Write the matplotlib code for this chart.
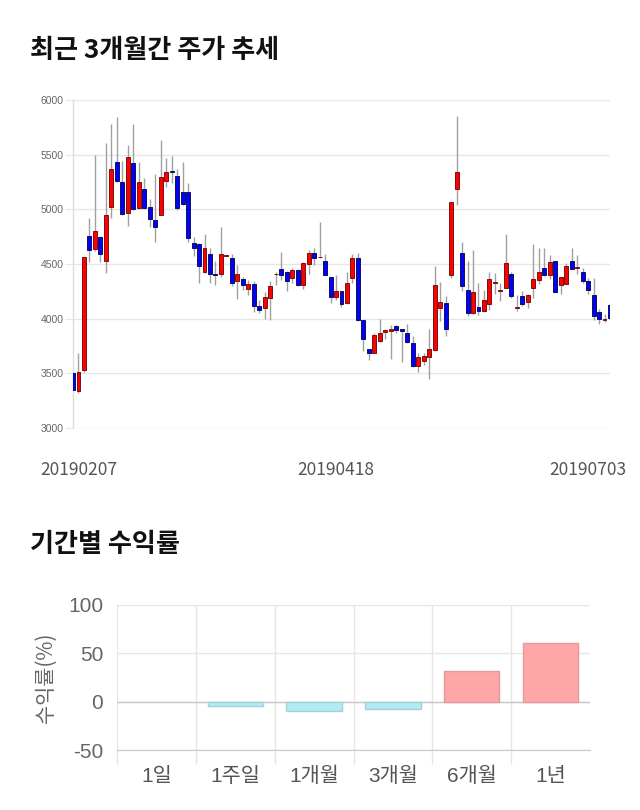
import matplotlib
matplotlib.use("Agg")
import matplotlib.pyplot as plt
from matplotlib.patches import Rectangle

plt.rcParams['font.family'] = ['Noto Sans CJK KR', 'DejaVu Sans']

# ---------------- data ----------------
opens = [3500, 3340, 3530, 4760, 4640, 4750, 4530, 5020, 5435, 5250,
         4965, 5425, 5010, 5185, 5025, 4900, 4950, 5255, 5355, 5305,
         5155, 5155, 4690, 4680, 4430, 4595, 4408, 4405, 4575, 4555,
         4340, 4360, 4270, 4320, 4120, 4095, 4185, 4405, 4455, 4425,
         4370, 4445, 4305, 4500, 4600, 4560, 4525, 4380, 4195, 4250,
         4145, 4375, 4555, 3985, 3720, 3690, 3800, 3875, 3890, 3930,
         3905, 3870, 3775, 3570, 3610, 3645, 3715, 4100, 4145, 4400,
         5190, 4605, 4265, 4055, 4105, 4070, 4135, 4325, 4255, 4285,
         4405, 4097, 4205, 4150, 4285, 4355, 4465, 4395, 4525, 4310,
         4320, 4525, 4462, 4425, 4345, 4215, 4065, 3990, 4125]
highs = [3510, 3690, 4565, 4920, 5500, 4760, 5610, 5780, 5840, 5445,
         5590, 5780, 5435, 5285, 5095, 5320, 5635, 5465, 5490, 5370,
         5435, 5240, 4750, 4690, 4775, 4645, 4530, 4835, 4580, 4590,
         4495, 4380, 4350, 4340, 4175, 4245, 4340, 4430, 4610, 4440,
         4465, 4455, 4515, 4630, 4645, 4880, 4590, 4385, 4400, 4255,
         4430, 4595, 4600, 3990, 3725, 3870, 3995, 3905, 3940, 3945,
         3910, 3950, 3840, 3685, 3690, 3905, 4480, 4335, 4205, 5070,
         5850, 4700, 4530, 4625, 4330, 4260, 4425, 4420, 4330, 4775,
         4430, 4215, 4250, 4225, 4685, 4645, 4645, 4585, 4530, 4385,
         4510, 4645, 4580, 4465, 4370, 4370, 4085, 4040, 4130]
lows = [3340, 3320, 3510, 4520, 4620, 4520, 4420, 4925, 5250, 4950,
        4845, 4990, 5000, 5005, 4840, 4700, 4950, 5200, 5240, 4990,
        5040, 4700, 4570, 4325, 4415, 4330, 4310, 4385, 4570, 4300,
        4180, 4265, 4220, 4065, 4055, 4000, 3985, 4310, 4350, 4255,
        4330, 4300, 4275, 4405, 4495, 4555, 4395, 4145, 4175, 4105,
        4130, 4325, 3975, 3700, 3625, 3690, 3790, 3810, 3630, 3870,
        3600, 3775, 3560, 3510, 3580, 3450, 3700, 3975, 3840, 4370,
        5040, 4250, 4020, 4045, 4035, 4060, 4080, 4230, 4160, 4280,
        4190, 4070, 4115, 4100, 4190, 4320, 4390, 4360, 4240, 4230,
        4315, 4450, 4410, 4325, 4225, 3985, 3950, 3970, 4000]
closes = [3350, 3510, 4565, 4625, 4800, 4595, 4950, 5370, 5255, 4955,
          5480, 5000, 5250, 5010, 4910, 4840, 5300, 5345, 5340, 5010,
          5045, 4735, 4645, 4485, 4650, 4405, 4400, 4590, 4578, 4330,
          4405, 4305, 4320, 4120, 4075, 4195, 4300, 4410, 4400, 4345,
          4445, 4305, 4505, 4600, 4555, 4562, 4400, 4195, 4250, 4135,
          4325, 4555, 3985, 3810, 3690, 3855, 3870, 3895, 3910, 3900,
          3885, 3785, 3565, 3650, 3655, 3720, 4305, 4155, 3910, 5070,
          5340, 4295, 4050, 4245, 4070, 4175, 4365, 4327, 4262, 4505,
          4205, 4100, 4135, 4215, 4365, 4430, 4395, 4515, 4240, 4385,
          4480, 4455, 4468, 4340, 4260, 4025, 3995, 3992, 4005]
price_ticks = [3000, 3500, 4000, 4500, 5000, 5500, 6000]
date_tick_idx = [1, 48, 94]
date_labels = ['20190207', '20190418', '20190703']

periods = ['1일', '1주일', '1개월', '3개월', '6개월', '1년']
returns = [0.0, -4.1, -9.7, -7.2, 31.7, 60.3]
return_ticks = [-50, 0, 50, 100]

# ---------------- figure ----------------
W, H = 640, 810
fig = plt.figure(figsize=(W / 100, H / 100), dpi=100)


def fx(px):
    return px / W


def fy(py):
    return 1 - py / H


fig.text(fx(30), fy(50), '최근 3개월간 주가 추세', fontsize=18.8, fontweight='bold',
         color='#111111', ha='left', va='center')
fig.text(fx(30), fy(545), '기간별 수익률', fontsize=18.8, fontweight='bold',
         color='#111111', ha='left', va='center')

# ---------------- candlestick ----------------
ax = fig.add_axes([fx(73), fy(428), fx(610) - fx(73), fy(100) - fy(428)])
n = len(opens)
bw = 0.72
for i in range(n):
    o, h, l, c = opens[i], highs[i], lows[i], closes[i]
    up = c >= o
    face = '#ff0000' if up else '#0000ff'
    edge = '#7a1010' if up else '#10105a'
    ax.vlines(i, l, h, color='#a0a0a0', linewidth=1.0, zorder=2)
    bottom = min(o, c)
    height = max(abs(c - o), 8)
    ax.add_patch(Rectangle((i - bw / 2, bottom), bw, height, facecolor=face,
                           edgecolor=edge, linewidth=0.7, zorder=3))

ax.set_xlim(0, n - 1)
ax.set_ylim(3000, 6000)
ax.set_yticks(price_ticks)
ax.set_yticklabels([str(t) for t in price_ticks], fontsize=7.5, color='#666666',
                   family=['Liberation Sans', 'DejaVu Sans'])
ax.yaxis.grid(True, color='#e6e6e6', linewidth=1.0)
ax.set_axisbelow(True)
ax.tick_params(axis='y', length=6, color='#e6e6e6', pad=1)
ax.set_xticks(date_tick_idx)
ax.set_xticklabels(date_labels, fontsize=12.5, color='#555555')
ax.tick_params(axis='x', length=0, pad=24)
for s in ['top', 'right', 'bottom']:
    ax.spines[s].set_visible(False)
ax.spines['left'].set_color('#dddddd')
ax.spines['left'].set_linewidth(1.0)

# ---------------- returns bar chart ----------------
bx = fig.add_axes([fx(117), fy(750), fx(590) - fx(117), fy(605) - fy(750)])
xs = list(range(len(periods)))
colors = ['#ffa6a6' if v > 0 else '#b2ebf2' for v in returns]
edges = ['#e49a9a' if v > 0 else ('#9fd3dc' if v < 0 else 'none') for v in returns]
bx.bar(xs, returns, width=0.7, color=colors, edgecolor=edges, linewidth=1.0, zorder=3)
bx.set_xlim(-0.5, len(periods) - 0.5)
bx.set_ylim(-50, 100)
bx.set_yticks(return_ticks)
bx.set_yticklabels([str(t) for t in return_ticks], fontsize=15, color='#666666',
                   family=['Liberation Sans', 'DejaVu Sans'])
bx.tick_params(axis='y', length=0, pad=10)
bx.yaxis.grid(True, color='#e6e6e6', linewidth=1.0)
bx.axhline(0, color='#c8c8c8', linewidth=1.0, zorder=2)
bx.set_xticks(xs)
bx.set_xticklabels(periods, fontsize=15, color='#555555',
                   family=['Liberation Sans', 'Noto Sans CJK KR'])
bx.tick_params(axis='x', which='major', length=0, pad=12)
bx.set_xticks([x - 0.5 for x in xs], minor=True)
bx.tick_params(axis='x', which='minor', length=10, color='#e6e6e6', width=1.0)
bx.xaxis.grid(True, which='minor', color='#e6e6e6', linewidth=1.0)
bx.set_axisbelow(True)
for s in ['top', 'right', 'left']:
    bx.spines[s].set_visible(False)
bx.spines['bottom'].set_color('#c8c8c8')
bx.set_ylabel('수익률(%)', fontsize=15, color='#666666', labelpad=8)

fig.savefig('out.png', dpi=100)
